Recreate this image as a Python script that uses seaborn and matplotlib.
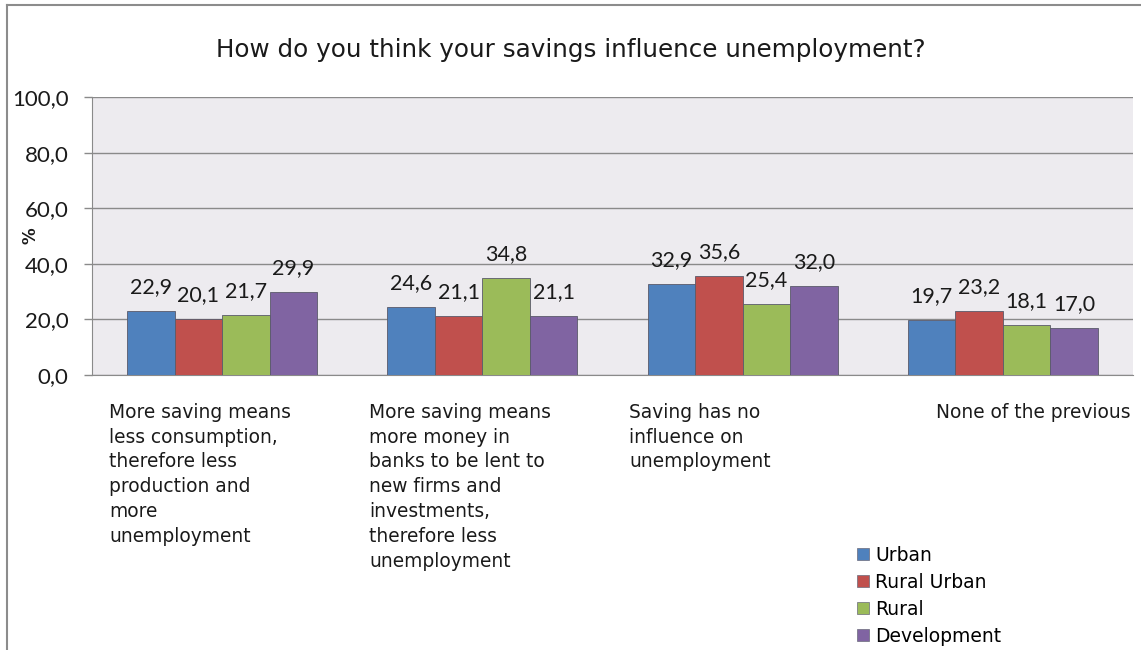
import matplotlib
matplotlib.use("Agg")
import matplotlib.pyplot as plt
from matplotlib.lines import Line2D
from matplotlib.patches import Patch
import pandas as pd
import seaborn as sns

# Survey answers (categories) and the share of respondents per area type
categories = [
    "More saving means\nless consumption,\ntherefore less\nproduction and\nmore\nunemployment",
    "More saving means\nmore money in\nbanks to be lent to\nnew firms and\ninvestments,\ntherefore less\nunemployment",
    "Saving has no\ninfluence on\nunemployment",
    "None of the previous",
]
series_names = ["Urban", "Rural Urban", "Rural", "Development"]
urban = [22.9, 24.6, 32.9, 19.7]
rural_urban = [20.1, 21.1, 35.6, 23.2]
rural = [21.7, 34.8, 25.4, 18.1]
development = [29.9, 21.1, 32.0, 17.0]
y_ticks = [0, 20, 40, 60, 80, 100]

colors = ["#4F81BD", "#C0504D", "#9BBB59", "#8064A2"]

rows = []
for name, vals in zip(series_names, [urban, rural_urban, rural, development]):
    for i, v in enumerate(vals):
        rows.append({"cat": i, "series": name, "value": v})
df = pd.DataFrame(rows)

W, H = 1141, 650
fig = plt.figure(figsize=(W / 100, H / 100), dpi=100)
ax = fig.add_axes([92 / W, 1 - 375 / H, (1133 - 92) / W, (375 - 97) / H])
ax.set_facecolor("#EDEBEF")

sns.barplot(data=df, x="cat", y="value", hue="series", hue_order=series_names,
            palette=colors, width=0.73, saturation=1, ax=ax, legend=False,
            edgecolor="#5a5a6a", linewidth=0.6, zorder=3)

ax.set_ylim(0, 100)
ax.set_xlim(-0.5, 3.5)
ax.set_yticks(y_ticks)
ax.set_yticklabels([f"{t:.1f}".replace(".", ",") for t in y_ticks],
                   fontsize=16, family="Lato", color="#1a1a1a")
ax.tick_params(axis="y", length=6, width=1, color="#8a8a8a", pad=11, direction="out")
ax.set_xticks([])
ax.set_xlabel("")
ax.set_ylabel("")
ax.yaxis.grid(True, color="#8a8a8a", linewidth=1, zorder=0)
ax.set_axisbelow(True)
for s in ["top", "right"]:
    ax.spines[s].set_visible(False)
ax.spines["left"].set_color("#8a8a8a")
ax.spines["bottom"].set_color("#8a8a8a")

fig.text(31 / W, 1 - 236 / H, "%", rotation=90, ha="center", va="center",
         fontsize=12, fontweight="bold", family="DejaVu Sans", color="#1a1a1a")

# value labels with comma decimals
for cont in ax.containers:
    labels = [f"{b.get_height():.1f}".replace(".", ",") for b in cont]
    ax.bar_label(cont, labels=labels, padding=10, fontsize=15.5,
                 family="Lato", color="#1a1a1a")

# category labels below the axis
for i, lab in enumerate(categories):
    last = i == len(categories) - 1
    ax.text(i + 0.49 if last else i - 0.435, -0.1, lab,
            transform=ax.get_xaxis_transform(),
            ha="right" if last else "left", va="top", fontsize=13.4,
            family="DejaVu Sans", linespacing=1.39, color="#1a1a1a")

fig.suptitle("How do you think your savings influence unemployment?",
             y=1 - 50 / H, va="center", fontsize=17.7, family="DejaVu Sans",
             color="#1a1a1a")

handles = [Patch(facecolor=c, edgecolor="#6a6a7a", linewidth=0.5) for c in colors]
fig.legend(handles, series_names, loc="lower left",
           bbox_to_anchor=(850 / W, -3 / H), frameon=False,
           prop={"family": "DejaVu Sans", "size": 13.5},
           handlelength=0.6, handleheight=0.6, handletextpad=0.35,
           labelspacing=0.42, borderaxespad=0)

# chart frame
fig.add_artist(Line2D([7 / W, 7 / W], [0, 1 - 5 / H],
                      transform=fig.transFigure, color="#8c8c8c", linewidth=1.5))
fig.add_artist(Line2D([7 / W, 1], [1 - 5 / H, 1 - 5 / H],
                      transform=fig.transFigure, color="#8c8c8c", linewidth=1.5))

fig.savefig("out.png", dpi=100, facecolor="white")
